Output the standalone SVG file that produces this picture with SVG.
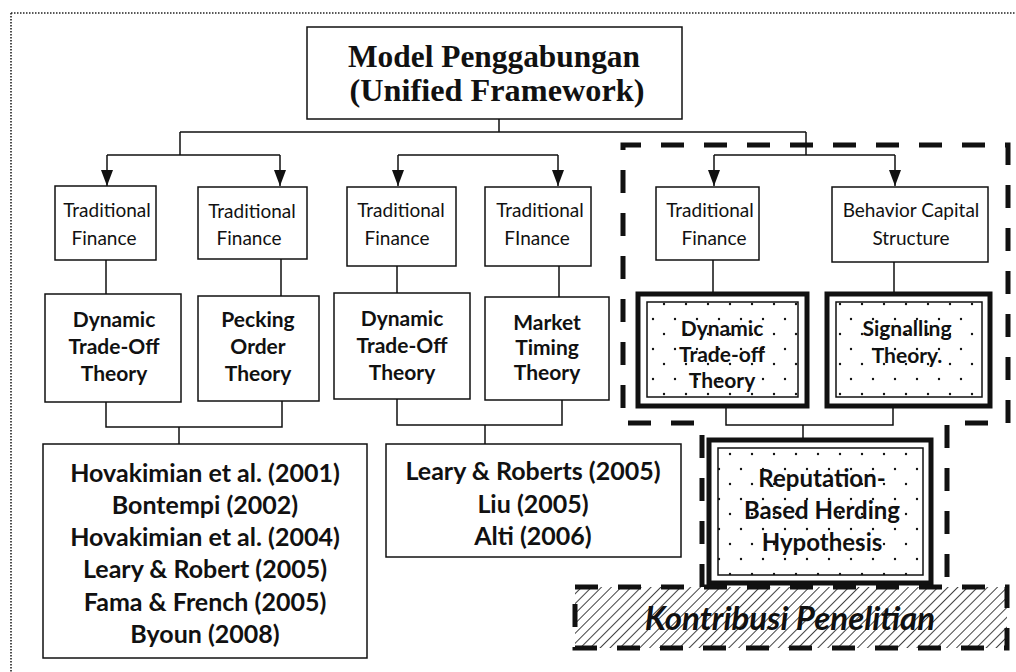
<svg xmlns="http://www.w3.org/2000/svg" width="1016" height="672" viewBox="0 0 1016 672">
<style>
.box{fill:#fff;stroke:#111;stroke-width:1.5}
.thick{fill:#fff;stroke:#111;stroke-width:5}
.inner{fill:url(#dots);stroke:#111;stroke-width:1.5}
.ln{fill:none;stroke:#111;stroke-width:1.5}
.dash{fill:none;stroke:#111;stroke-width:5;stroke-dasharray:23 20}
.dot{fill:none;stroke:#222;stroke-width:1.6;stroke-dasharray:1.5 1.5}
.title{font-family:"Liberation Serif",serif;font-weight:bold;font-size:31px;fill:#111;text-anchor:middle}
.lab{font-family:Lato,"Liberation Sans",sans-serif;font-size:19px;fill:#111;text-anchor:middle}
.bold{font-family:Lato,"Liberation Sans",sans-serif;font-weight:bold;font-size:21px;fill:#111;text-anchor:middle}
.ref{font-family:Lato,"Liberation Sans",sans-serif;font-weight:bold;font-size:25px;fill:#111;text-anchor:middle}
.dt{font-family:Lato,"Liberation Sans",sans-serif;font-weight:bold;font-size:21px;fill:#111;text-anchor:middle}
.rb{font-family:Lato,"Liberation Sans",sans-serif;font-weight:bold;font-size:24px;fill:#111;text-anchor:middle}
.kp{font-family:Lato,"Liberation Sans",sans-serif;font-weight:bold;font-style:italic;font-size:33px;fill:#111;text-anchor:middle}
</style>
<defs>
<pattern id="dots" width="22" height="30" patternUnits="userSpaceOnUse">
<circle cx="4" cy="4" r="1.2" fill="#111"/>
<circle cx="15" cy="19" r="1.2" fill="#111"/>
</pattern>
<pattern id="hatch" width="7" height="7" patternUnits="userSpaceOnUse" patternTransform="rotate(45)">
<rect width="7" height="7" fill="#fff"/>
<line x1="0" y1="0" x2="0" y2="7" stroke="#111" stroke-width="1.6"/>
</pattern>
<marker id="arr" viewBox="0 0 16 12" refX="16" refY="6" markerWidth="16" markerHeight="12" markerUnits="userSpaceOnUse" orient="auto">
<path d="M0,0 L16,6 L0,12 z" fill="#111"/>
</marker>
</defs>
<rect width="1016" height="672" fill="#fff"/>
<g id="frame">
<path class="dot" d="M11,13 H1016 M11,13 V672"/>
</g>
<g id="contribution-region">
<path class="dash" d="M702,587 V423 H623 V145 H1008 V423 H947 V587"/>
</g>
<g id="connectors">
<path class="ln" d="M499,119 V132 M180,132 H806 M180,132 V155 M107,155 H280 M398,155 H558 M806,132 V155 M714,155 H895"/>
<path class="ln" marker-end="url(#arr)" d="M107,155 V186"/>
<path class="ln" marker-end="url(#arr)" d="M280,155 V186"/>
<path class="ln" marker-end="url(#arr)" d="M398,155 V186"/>
<path class="ln" marker-end="url(#arr)" d="M558,155 V186"/>
<path class="ln" marker-end="url(#arr)" d="M714,155 V186"/>
<path class="ln" marker-end="url(#arr)" d="M895,155 V186"/>
<path class="ln" d="M106,260 V294 M281,259 V296 M397,266 V293 M559,266 V297 M713,260 V292 M894,262 V292"/>
<path class="ln" d="M106,402 V427 H282 V401 M179,427 V444"/>
<path class="ln" d="M397,399 V425 H562 V400 M485,425 V444"/>
<path class="ln" d="M726,408 V425 H893 V408 M803,425 V438"/>
</g>
<g id="title">
<rect class="box" x="307" y="27" width="375" height="92"/>
<text class="title" x="494" y="67" textLength="292" lengthAdjust="spacingAndGlyphs">Model Penggabungan</text>
<text class="title" x="497" y="101" textLength="295" lengthAdjust="spacingAndGlyphs">(Unified Framework)</text>
</g>
<g id="tf1">
<rect class="box" x="55" y="186" width="101" height="74"/>
<text class="lab" x="107" y="217">Traditional</text>
<text class="lab" x="104" y="245">Finance</text>
</g>
<g id="tf2">
<rect class="box" x="198" y="187" width="109" height="72"/>
<text class="lab" x="252" y="218">Traditional</text>
<text class="lab" x="249" y="245">Finance</text>
</g>
<g id="tf3">
<rect class="box" x="347" y="187" width="109" height="79"/>
<text class="lab" x="401" y="217">Traditional</text>
<text class="lab" x="397" y="245">Finance</text>
</g>
<g id="tf4">
<rect class="box" x="485" y="187" width="106" height="79"/>
<text class="lab" x="540" y="217">Traditional</text>
<text class="lab" x="537" y="245">FInance</text>
</g>
<g id="tf5">
<rect class="box" x="656" y="187" width="103" height="73"/>
<text class="lab" x="710" y="217">Traditional</text>
<text class="lab" x="714" y="245">Finance</text>
</g>
<g id="bcs">
<rect class="box" x="832" y="187" width="156" height="75"/>
<text class="lab" x="911" y="217">Behavior Capital</text>
<text class="lab" x="911" y="245">Structure</text>
</g>
<g id="dto1">
<rect class="box" x="45" y="294" width="136" height="108"/>
<text class="bold" x="114" y="327">Dynamic</text>
<text class="bold" x="114" y="354">Trade-Off</text>
<text class="bold" x="114" y="381">Theory</text>
</g>
<g id="pot">
<rect class="box" x="198" y="296" width="121" height="105"/>
<text class="bold" x="258" y="327">Pecking</text>
<text class="bold" x="258" y="354">Order</text>
<text class="bold" x="258" y="381">Theory</text>
</g>
<g id="dto2">
<rect class="box" x="334" y="293" width="136" height="106"/>
<text class="bold" x="402" y="326">Dynamic</text>
<text class="bold" x="402" y="353">Trade-Off</text>
<text class="bold" x="402" y="380">Theory</text>
</g>
<g id="mtt">
<rect class="box" x="485" y="297" width="124" height="103"/>
<text class="bold" x="547" y="330">Market</text>
<text class="bold" x="547" y="355">Timing</text>
<text class="bold" x="547" y="380">Theory</text>
</g>
<g id="dto3">
<rect class="thick" x="638" y="294" width="169" height="112"/>
<rect class="inner" x="647" y="302" width="151" height="95"/>
<text class="dt" x="722" y="336">Dynamic</text>
<text class="dt" x="722" y="362">Trade-off</text>
<text class="dt" x="722" y="388">Theory</text>
</g>
<g id="st">
<rect class="thick" x="827" y="294" width="163" height="112"/>
<rect class="inner" x="836" y="302" width="146" height="95"/>
<text class="dt" x="907" y="336">Signalling</text>
<text class="dt" x="907" y="363">Theory.</text>
</g>
<g id="rbh">
<rect class="thick" x="709" y="440" width="222" height="143"/>
<rect class="inner" x="718" y="448" width="205" height="127"/>
<text class="rb" x="822" y="487">Reputation-</text>
<text class="rb" x="822" y="519">Based Herding</text>
<text class="rb" x="822" y="551">Hypothesis</text>
</g>
<g id="refs1">
<rect class="box" x="43" y="444" width="324" height="214"/>
<text class="ref" x="205" y="482">Hovakimian et al. (2001)</text>
<text class="ref" x="205" y="514">Bontempi (2002)</text>
<text class="ref" x="205" y="546">Hovakimian et al. (2004)</text>
<text class="ref" x="205" y="578">Leary &amp; Robert (2005)</text>
<text class="ref" x="205" y="611">Fama &amp; French (2005)</text>
<text class="ref" x="205" y="643">Byoun (2008)</text>
</g>
<g id="refs2">
<rect class="box" x="386" y="444" width="295" height="113"/>
<text class="ref" x="533" y="480">Leary &amp; Roberts (2005)</text>
<text class="ref" x="533" y="513">Liu (2005)</text>
<text class="ref" x="533" y="545">Alti (2006)</text>
</g>
<g id="kontribusi">
<rect x="575" y="587" width="432" height="61" fill="url(#hatch)"/>
<rect class="dash" x="575" y="587" width="432" height="61"/>
<text class="kp" x="790" y="630">Kontribusi Penelitian</text>
</g>
</svg>
